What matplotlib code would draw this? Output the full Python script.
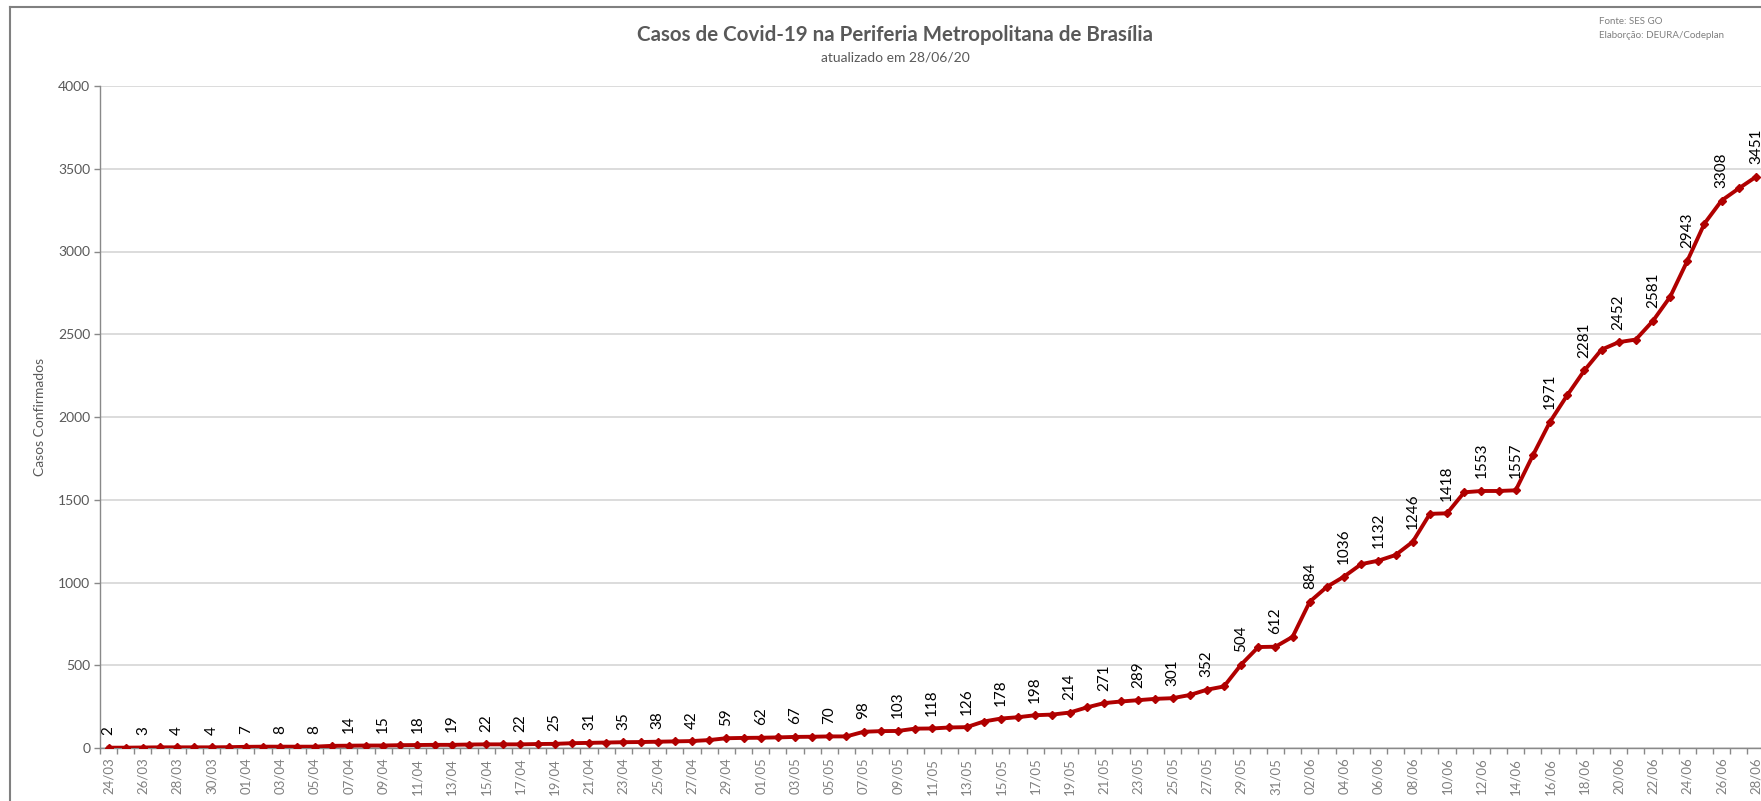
import matplotlib
matplotlib.use("Agg")
import matplotlib.pyplot as plt
import numpy as np
import pandas as pd

# dates 24/03 .. 28/06 (one point per day)
dates = pd.date_range("2020-03-24", "2020-06-28").strftime("%d/%m").tolist()

casos = [2, 2, 3, 4, 4, 4, 4, 5, 7, 8,
         8, 8, 8, 13, 14, 15, 15, 17, 18, 19,
         19, 21, 22, 22, 22, 24, 25, 29, 31, 33,
         35, 36, 38, 40, 42, 48, 59, 61, 62, 64,
         67, 68, 70, 70, 98, 102, 103, 117, 118, 124,
         126, 160, 178, 186, 198, 202, 214, 245, 271, 281,
         289, 297, 301, 320, 352, 372, 504, 610, 612, 672,
         884, 974, 1036, 1111, 1132, 1166, 1246, 1415, 1418, 1545,
         1553, 1553, 1557, 1768, 1971, 2131, 2281, 2407, 2452, 2468,
         2581, 2726, 2943, 3169, 3308, 3381, 3451]

yticks = [0, 500, 1000, 1500, 2000, 2500, 3000, 3500, 4000]

plt.rcParams["font.family"] = ["Lato", "DejaVu Sans"]

W, H = 1761, 801
fig = plt.figure(figsize=(W / 100, H / 100), dpi=100)

x = np.arange(len(dates))
step = 17.16  # px per day
ax = fig.add_axes([100 / W, (H - 748) / H, len(dates) * step / W, (748 - 86) / H])

red = "#B00000"
ax.plot(x, casos, color=red, lw=2.8, marker="D", markersize=4.2, zorder=3)

# data labels every other day
for i in range(0, len(dates), 2):
    ax.annotate(str(casos[i]), (x[i], casos[i]), xytext=(0, 9), textcoords="offset points",
                rotation=90, ha="center", va="bottom", fontsize=11, color="black",
                annotation_clip=False)

ax.set_xlim(-0.5, len(dates) - 0.5)
ax.set_ylim(0, 4000)
ax.set_yticks(yticks)
ax.set_yticklabels([str(v) for v in yticks])
ax.yaxis.grid(True, color="#d9d9d9", lw=1.3)
ax.set_axisbelow(True)

# tick marks on category boundaries, labels every other category
ax.set_xticks(np.arange(-0.5, len(dates), 1))
ax.set_xticklabels([])
ax.set_xticks(x[::2], minor=True)
ax.set_xticklabels(dates[::2], minor=True, rotation=90)
ax.tick_params(axis="x", which="major", length=4, color="#898989", width=1)
ax.tick_params(axis="x", which="minor", length=0, pad=7, labelsize=9.5, labelcolor="#808080")
ax.tick_params(axis="y", length=4, color="#898989", width=1, pad=3, labelsize=10, labelcolor="#595959")

for s in ["top", "right"]:
    ax.spines[s].set_visible(False)
for s in ["left", "bottom"]:
    ax.spines[s].set_color("#898989")
    ax.spines[s].set_linewidth(1)

ax.set_ylabel("Casos Confirmados", fontsize=10, color="#595959")
ax.yaxis.set_label_coords(-(100 - 46) / (len(dates) * step), 0.5)

fig.text(895 / W, (H - 35) / H, "Casos de Covid-19 na Periferia Metropolitana de Brasília",
         ha="center", va="center", fontsize=14.8, fontweight="bold", color="#595959")
fig.text(895 / W, (H - 58) / H, "atualizado em 28/06/20",
         ha="center", va="center", fontsize=10, color="#595959")
fig.text(1599 / W, (H - 21) / H, "Fonte: SES GO", ha="left", va="center",
         fontsize=7, color="#7f7f7f")
fig.text(1599 / W, (H - 35) / H, "Elaborção: DEURA/Codeplan", ha="left", va="center",
         fontsize=7, color="#7f7f7f")

# outer chart frame (cropped at right and bottom)
fig.add_artist(plt.Line2D([10 / W, 10 / W], [0, (H - 7) / H], color="#808080", lw=1.5,
                          transform=fig.transFigure))
fig.add_artist(plt.Line2D([10 / W, 1], [(H - 7) / H, (H - 7) / H], color="#808080", lw=1.5,
                          transform=fig.transFigure))

fig.savefig("out.png", dpi=100)
